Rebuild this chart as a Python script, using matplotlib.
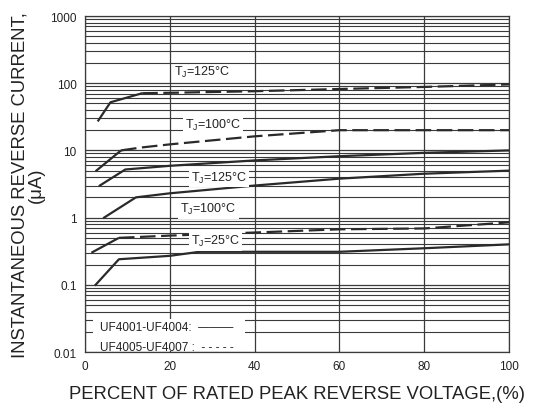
import matplotlib
matplotlib.use("Agg")
import matplotlib.pyplot as plt
from matplotlib.patches import Rectangle
from matplotlib.ticker import FixedLocator, FixedFormatter, LogLocator, NullFormatter

plt.rcParams['font.family'] = ['Liberation Sans', 'DejaVu Sans']

# Data (percent of rated voltage, current in uA)
x_125_hi = [3, 6, 13.5, 20, 40, 60, 80, 100]
y_125_hi = [27, 52, 71, 72, 76, 82, 88, 96]
x_100_hi = [2.5, 8.5, 13, 20, 40, 60, 80, 100]
y_100_hi = [4.9, 10, 11, 12.3, 16.2, 20, 20, 20]
x_125_lo = [3.5, 9.5, 20, 40, 60, 80, 100]
y_125_lo = [3.0, 5.2, 5.9, 7.1, 8.2, 9.2, 10]
x_100_lo = [4.5, 12, 20, 40, 60, 80, 100]
y_100_lo = [1.0, 2.0, 2.3, 3.0, 3.8, 4.5, 5.0]
x_25_hi = [1.5, 8, 20, 40, 60, 80, 100]
y_25_hi = [0.30, 0.50, 0.54, 0.60, 0.67, 0.69, 0.85]
x_25_lo = [2.5, 8, 20, 27, 60, 80, 100]
y_25_lo = [0.10, 0.24, 0.27, 0.31, 0.31, 0.35, 0.40]

y_ticks = [0.01, 0.1, 1, 10, 100, 1000]
y_tick_labels = ['0.01', '0.1', '1', '10', '100', '1000']
x_ticks = [0, 20, 40, 60, 80, 100]

fig = plt.figure(figsize=(5.39, 4.06), dpi=100)
ax = fig.add_axes([0.1577, 0.1305, 0.7866, 0.8276])
ax.set_yscale('log')
ax.set_xlim(0, 100)
ax.set_ylim(0.01, 1000)

ax.yaxis.set_major_locator(FixedLocator(y_ticks))
ax.yaxis.set_major_formatter(FixedFormatter(y_tick_labels))
ax.yaxis.set_minor_locator(LogLocator(base=10, subs=range(2, 10)))
ax.yaxis.set_minor_formatter(NullFormatter())
ax.set_xticks(x_ticks)
ax.tick_params(which='both', length=0, labelsize=8.5, colors='#222222')
ax.tick_params(axis='y', pad=6)
ax.tick_params(axis='x', pad=6)

gcol = '#3a3a3a'
ax.grid(True, which='major', axis='both', color=gcol, lw=0.9)
ax.grid(True, which='minor', axis='y', color=gcol, lw=0.8)
for s in ax.spines.values():
    s.set_color(gcol)
    s.set_linewidth(0.9)

lc = '#2a2a2a'
lw = 1.6
dash = (0, (7, 2.5))

def draw(xs, ys, dashed, knee):
    if dashed:
        ax.plot(xs[:knee + 1], ys[:knee + 1], color=lc, lw=lw, solid_capstyle='butt', zorder=3)
        ax.plot(xs[knee:], ys[knee:], color=lc, lw=lw, linestyle=dash, zorder=3)
    else:
        ax.plot(xs, ys, color=lc, lw=lw, zorder=3)

draw(x_125_hi, y_125_hi, True, 2)
draw(x_100_hi, y_100_hi, True, 1)
draw(x_125_lo, y_125_lo, False, 0)
draw(x_100_lo, y_100_lo, False, 0)
draw(x_25_hi, y_25_hi, True, 1)
draw(x_25_lo, y_25_lo, False, 0)

bbox = dict(facecolor='white', edgecolor='none', pad=1.5)
lab_kw = dict(fontsize=9, color='#222222', zorder=4, va='center', ha='left')
ax.text(21, 150, 'T$_\\mathregular{J}$=125°C', **lab_kw)
ax.text(23.5, 24.5, 'T$_\\mathregular{J}$=100°C', bbox=bbox, **lab_kw)
ax.text(25, 4.0, 'T$_\\mathregular{J}$=125°C', bbox=bbox, **lab_kw)
ax.text(22.5, 1.35, 'T$_\\mathregular{J}$=100°C', bbox=bbox, **lab_kw)
ax.text(25, 0.45, 'T$_\\mathregular{J}$=25°C', bbox=bbox, **lab_kw)

# legend box (white area hiding grid)
ax.add_patch(Rectangle((0.018, 0.004), 0.36, 0.094, transform=ax.transAxes,
                       facecolor='white', edgecolor='none', zorder=2.5))
leg_kw = dict(fontsize=8.5, color='#222222', zorder=4, va='center', ha='left')
ax.text(3.5, 0.0235, 'UF4001-UF4004:  ———', **leg_kw)
ax.text(3.5, 0.0119, 'UF4005-UF4007 :  - - - - -', **leg_kw)

ax.set_xlabel('PERCENT OF RATED PEAK REVERSE VOLTAGE,(%)', fontsize=13.3, color='#222222', labelpad=9)
ax.set_ylabel('INSTANTANEOUS REVERSE CURRENT,\n(μA)', fontsize=13.3, color='#222222', labelpad=4, linespacing=0.95)

fig.savefig('out.png', dpi=100)
